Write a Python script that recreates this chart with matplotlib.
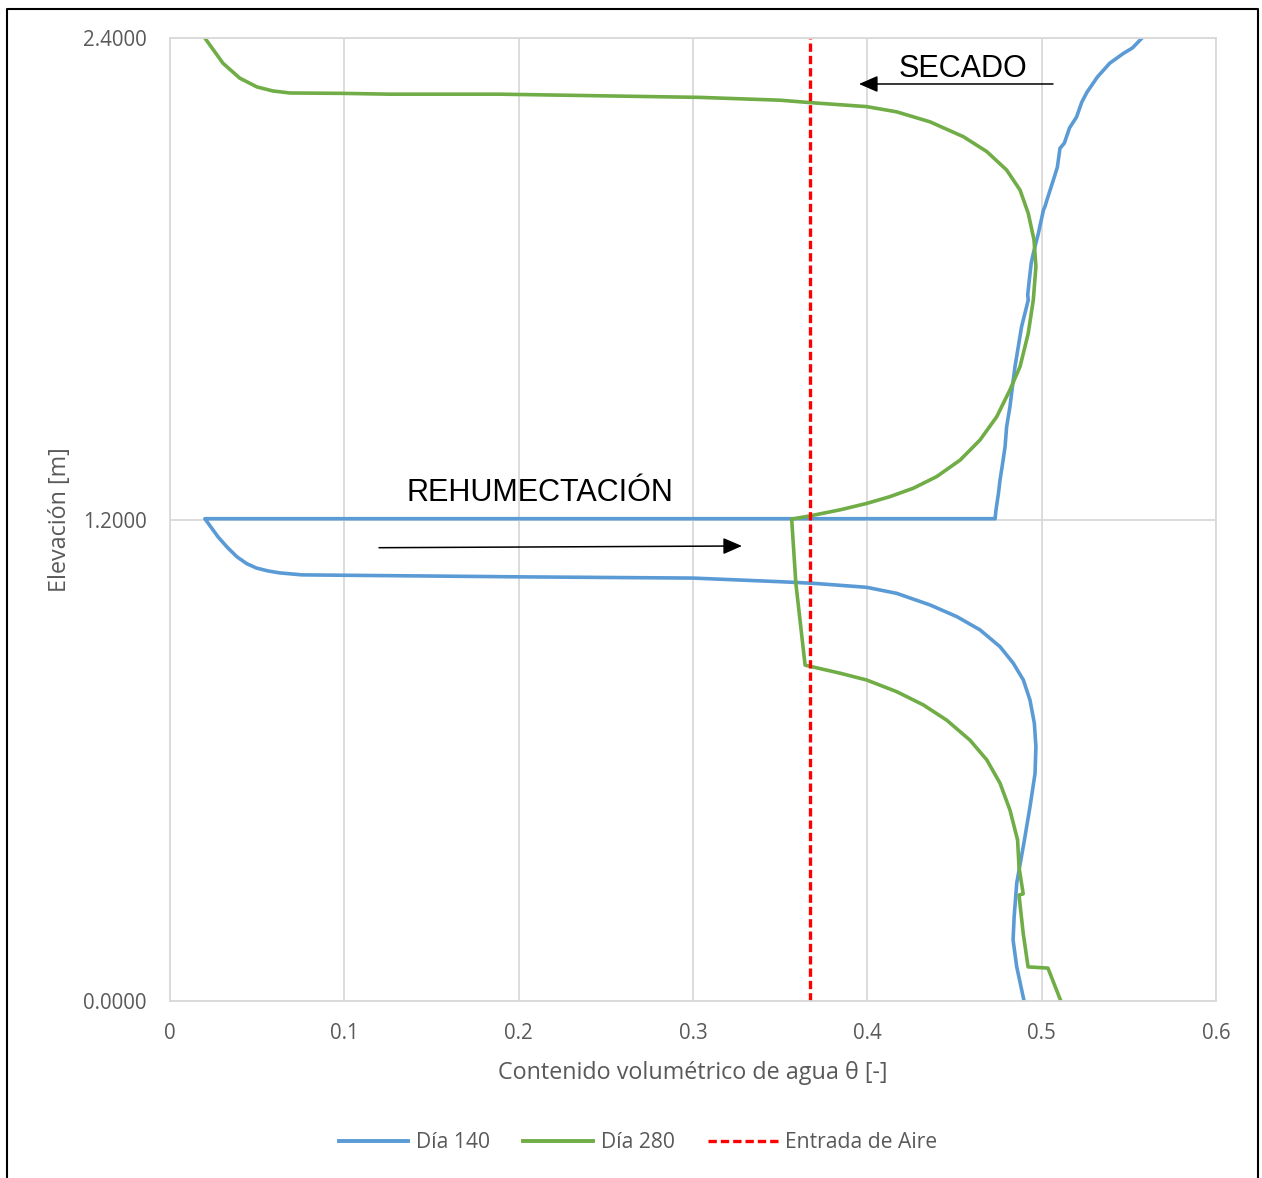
import matplotlib.pyplot as plt
from matplotlib.lines import Line2D

# Día 140 (contenido volumétrico, elevación)
dia140_x = [0.5576, 0.552, 0.547, 0.539, 0.532, 0.526, 0.523, 0.520, 0.516, 0.513, 0.5105, 0.509,
            0.5067, 0.503, 0.5019, 0.501, 0.4981, 0.4952, 0.494, 0.4929, 0.492, 0.4923, 0.4904,
            0.4885, 0.4866, 0.4847, 0.4832, 0.4818, 0.4799, 0.4790, 0.4776, 0.4761, 0.4752,
            0.4738, 0.4733,
            0.020, 0.0275, 0.033, 0.0384, 0.044, 0.0496, 0.056, 0.0628, 0.0757, 0.203, 0.300,
            0.3499, 0.3690, 0.3996, 0.4168, 0.4360, 0.4513, 0.4646, 0.4761, 0.4837, 0.4895,
            0.4933, 0.4958, 0.4967, 0.4962, 0.4933, 0.4901, 0.4857, 0.4842, 0.4836, 0.4857, 0.4899]
dia140_y = [2.400, 2.375, 2.362, 2.337, 2.303, 2.265, 2.240, 2.203, 2.176, 2.138, 2.125, 2.078,
            2.046, 1.996, 1.980, 1.971, 1.913, 1.863, 1.839, 1.797, 1.760, 1.747, 1.714,
            1.681, 1.631, 1.581, 1.531, 1.481, 1.431, 1.381, 1.340, 1.298, 1.265,
            1.224, 1.202,
            1.202, 1.157, 1.130, 1.107, 1.090, 1.079, 1.072, 1.067, 1.062, 1.057, 1.054,
            1.045, 1.041, 1.031, 1.016, 0.987, 0.958, 0.925, 0.883, 0.842, 0.800,
            0.750, 0.692, 0.634, 0.567, 0.484, 0.401, 0.294, 0.209, 0.152, 0.085, 0.000]

# Día 280
dia280_x = [0.020, 0.0304, 0.040, 0.0499, 0.059, 0.0688, 0.0992, 0.126, 0.189, 0.304, 0.3499,
            0.3671, 0.3996, 0.4168, 0.4360, 0.4551, 0.4685, 0.4799, 0.4876, 0.4923, 0.4956,
            0.4967, 0.4952, 0.4923, 0.4876, 0.4818, 0.4742, 0.4646, 0.4532, 0.4398, 0.4264,
            0.4130, 0.3996, 0.3843, 0.3671, 0.3566,
            0.359, 0.3643, 0.3843, 0.3996, 0.4168, 0.4321, 0.4455, 0.4589, 0.4685, 0.4761,
            0.4818, 0.4862, 0.487, 0.4894, 0.487, 0.4894, 0.4922, 0.5036, 0.511]
dia280_y = [2.400, 2.337, 2.300, 2.278, 2.268, 2.263, 2.262, 2.260, 2.260, 2.252, 2.245,
            2.239, 2.229, 2.216, 2.191, 2.154, 2.117, 2.071, 2.021, 1.963, 1.897,
            1.830, 1.747, 1.664, 1.581, 1.523, 1.456, 1.398, 1.348, 1.307, 1.278,
            1.257, 1.240, 1.224, 1.209, 1.201,
            1.041, 0.837, 0.817, 0.800, 0.771, 0.738, 0.700, 0.650, 0.601, 0.543,
            0.476, 0.401, 0.334, 0.267, 0.264, 0.169, 0.085, 0.082, 0.000]

# Entrada de aire
aire_x = [0.367, 0.367]
aire_y = [0.0, 2.4]

x_ticks = [0, 0.1, 0.2, 0.3, 0.4, 0.5, 0.6]
x_labels = ['0', '0.1', '0.2', '0.3', '0.4', '0.5', '0.6']
y_ticks = [0.0, 1.2, 2.4]
y_labels = ['0.0000', '1.2000', '2.4000']

plt.rcParams['font.family'] = ['Open Sans', 'DejaVu Sans']

fig = plt.figure(figsize=(12.62, 11.78), dpi=100)
ax = fig.add_axes([170 / 1262, 1 - 1001 / 1178, 1046 / 1262, 963 / 1178])

ax.plot(dia140_x, dia140_y, color='#5B9BD5', lw=2.6, label='Día 140', solid_joinstyle='round')
ax.plot(dia280_x, dia280_y, color='#70AD47', lw=2.6, label='Día 280', solid_joinstyle='round')
ax.plot(aire_x, aire_y, color='#FF0000', lw=2.4, dashes=(2.5, 1.2), label='Entrada de Aire')

ax.set_xlim(0, 0.6)
ax.set_ylim(0, 2.4)
ax.set_xticks(x_ticks)
ax.set_xticklabels(x_labels)
ax.set_yticks(y_ticks)
ax.set_yticklabels(y_labels)
ax.tick_params(length=0, labelsize=14.8, labelcolor='#595959')
ax.tick_params(axis='y', pad=17)
ax.tick_params(axis='x', pad=16)
ax.grid(True, color='#d9d9d9', lw=1.3)
ax.set_axisbelow(True)
for s in ax.spines.values():
    s.set_color('#d9d9d9')
    s.set_linewidth(1.3)

ax.set_xlabel('Contenido volumétrico de agua θ [-]', fontsize=16.8, color='#595959', labelpad=12)
ax.set_ylabel('Elevación [m]', fontsize=16.8, color='#595959', labelpad=8)

# anotaciones
flecha = dict(arrowstyle='-|>,head_length=1.15,head_width=0.5', color='black', lw=1.1,
              shrinkA=0, shrinkB=0)
ax.text(0.455, 2.322, 'SECADO', fontsize=22, family='Liberation Sans', ha='center', va='center')
ax.annotate('', xy=(0.3952, 2.2854), xytext=(0.5065, 2.2854), arrowprops=flecha)
ax.text(0.212, 1.265, 'REHUMECTACIÓN', fontsize=22, family='Liberation Sans', ha='center', va='center')
ax.annotate('', xy=(0.3281, 1.134), xytext=(0.1199, 1.1297), arrowprops=flecha)

handles = [Line2D([], [], color='#5B9BD5', lw=2.8),
           Line2D([], [], color='#70AD47', lw=2.8),
           Line2D([], [], color='#FF0000', lw=2.4, dashes=(2.5, 1.2))]
fig.legend(handles, ['Día 140', 'Día 280', 'Entrada de Aire'], loc='center',
           bbox_to_anchor=(638 / 1262, 1 - 1143 / 1178), ncol=3, frameon=False,
           fontsize=15.2, labelcolor='#595959', handlelength=3.3, handletextpad=0.35,
           columnspacing=1.6)

# marco negro
fig.add_artist(Line2D([7 / 1262, 7 / 1262, 1258 / 1262, 1258 / 1262],
                      [0, 1 - 9 / 1178, 1 - 9 / 1178, 0], transform=fig.transFigure,
                      color='black', lw=1.5))

fig.savefig('out.png', dpi=100)
